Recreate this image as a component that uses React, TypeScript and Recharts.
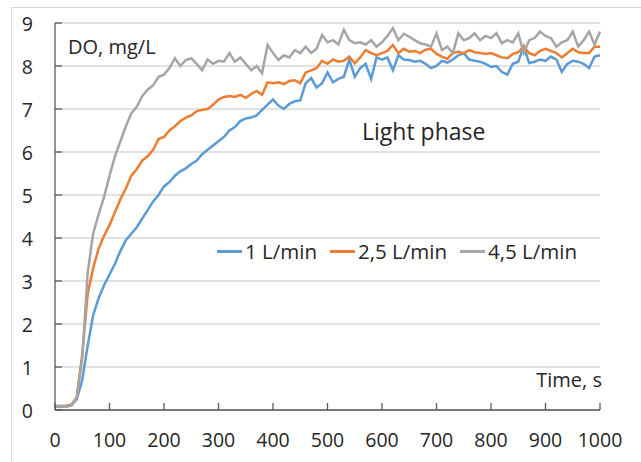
import React from 'react';
import { LineChart, Line, XAxis, YAxis, CartesianGrid, Legend, Customized } from 'recharts';

const TIME = [
  0, 10, 20, 30, 40, 50, 60, 70, 80, 90,
  100, 110, 120, 130, 140, 150, 160, 170, 180, 190,
  200, 210, 220, 230, 240, 250, 260, 270, 280, 290,
  300, 310, 320, 330, 340, 350, 360, 370, 380, 390,
  400, 410, 420, 430, 440, 450, 460, 470, 480, 490,
  500, 510, 520, 530, 540, 550, 560, 570, 580, 590,
  600, 610, 620, 630, 640, 650, 660, 670, 680, 690,
  700, 710, 720, 730, 740, 750, 760, 770, 780, 790,
  800, 810, 820, 830, 840, 850, 860, 870, 880, 890,
  900, 910, 920, 930, 940, 950, 960, 970, 980, 990,
  1000,
];

const FLOW_1 = [
  0.08, 0.09, 0.08, 0.1, 0.25, 0.7, 1.5, 2.2, 2.6, 2.9,
  3.15, 3.4, 3.7, 3.95, 4.1, 4.25, 4.45, 4.65, 4.85, 5.0,
  5.2, 5.3, 5.45, 5.55, 5.62, 5.72, 5.8, 5.95, 6.05, 6.15,
  6.25, 6.35, 6.5, 6.58, 6.72, 6.78, 6.8, 6.85, 6.98, 7.1,
  7.22, 7.08, 7.0, 7.12, 7.18, 7.2, 7.6, 7.72, 7.5, 7.6,
  7.85, 7.62, 7.7, 7.75, 8.15, 7.75, 7.95, 8.05, 7.7, 8.2,
  8.15, 8.2, 7.9, 8.25, 8.15, 8.14, 8.1, 8.12, 8.05, 7.95,
  8.0, 8.12, 8.08, 8.15, 8.25, 8.3, 8.15, 8.12, 8.1, 8.05,
  7.98, 8.0, 7.86, 7.8, 8.05, 8.1, 8.45, 8.07, 8.1, 8.15,
  8.12, 8.22, 8.15, 7.86, 8.05, 8.12, 8.1, 8.05, 7.95, 8.22,
  8.25,
];

const FLOW_2_5 = [
  0.1, 0.09, 0.1, 0.12, 0.3, 1.3, 2.7, 3.3, 3.75, 4.05,
  4.3, 4.6, 4.9, 5.15, 5.45, 5.6, 5.8, 5.9, 6.05, 6.3,
  6.35, 6.5, 6.6, 6.72, 6.8, 6.85, 6.95, 6.98, 7.0, 7.1,
  7.22, 7.28, 7.3, 7.28, 7.33, 7.26, 7.35, 7.42, 7.33, 7.62,
  7.6, 7.62, 7.58, 7.65, 7.67, 7.6, 7.85, 7.9, 7.95, 8.12,
  8.05, 8.15, 8.1, 8.12, 8.22, 8.06, 8.2, 8.37, 8.3, 8.25,
  8.3, 8.35, 8.49, 8.3, 8.4, 8.33, 8.35, 8.3, 8.38, 8.4,
  8.28, 8.22, 8.17, 8.3, 8.33, 8.3, 8.37, 8.32, 8.3, 8.28,
  8.3, 8.25, 8.2, 8.18, 8.28, 8.32, 8.45, 8.3, 8.25, 8.35,
  8.4, 8.35, 8.3, 8.2, 8.3, 8.4, 8.32, 8.3, 8.3, 8.45,
  8.45,
];

const FLOW_4_5 = [
  0.08, 0.1, 0.08, 0.1, 0.3, 1.2, 3.2, 4.1, 4.55, 4.95,
  5.45, 5.9, 6.25, 6.6, 6.9, 7.05, 7.3, 7.45, 7.55, 7.75,
  7.8, 7.95, 8.18, 8.0, 8.14, 8.18, 8.05, 7.9, 8.15, 8.05,
  8.12, 8.1, 8.3, 8.1, 8.2, 8.05, 7.9, 8.0, 7.83, 8.49,
  8.3, 8.14, 8.25, 8.2, 8.37, 8.3, 8.45, 8.3, 8.4, 8.72,
  8.55, 8.6, 8.5, 8.84, 8.6, 8.53, 8.55, 8.5, 8.6, 8.45,
  8.55, 8.7, 8.88, 8.6, 8.75, 8.68, 8.6, 8.53, 8.5, 8.45,
  8.76, 8.37, 8.45, 8.3, 8.76, 8.6, 8.65, 8.76, 8.6, 8.7,
  8.65, 8.76, 8.53, 8.6, 8.55, 8.76, 8.3, 8.6, 8.65, 8.8,
  8.7, 8.65, 8.45, 8.55, 8.6, 8.8, 8.45, 8.6, 8.8, 8.5,
  8.8,
];

const X_TICKS = [0, 100, 200, 300, 400, 500, 600, 700, 800, 900, 1000];
const Y_TICKS = [0, 1, 2, 3, 4, 5, 6, 7, 8, 9];
const SERIES_NAMES = ['1 L/min', '2,5 L/min', '4,5 L/min'];
const SERIES_KEYS = ['f1', 'f25', 'f45'];
const COLORS = ['#5B9BD5', '#ED7D31', '#A5A5A5'];

const data = TIME.map((t, i) => ({ t, f1: FLOW_1[i], f25: FLOW_2_5[i], f45: FLOW_4_5[i] }));

const FONT = '"Open Sans", "Noto Sans", sans-serif';
const TEXT_COLOR = '#262626';
const AXIS_COLOR = '#595959';

const XTick = (props: any) => {
  const { x, y, payload } = props;
  return (
    <g>
      <line x1={x} x2={x} y1={y} y2={y - 7} stroke={AXIS_COLOR} strokeWidth={1.3} />
      <text x={x} y={y + 36.5} textAnchor="middle" fontFamily={FONT} fontSize={19.5} fill={TEXT_COLOR}>
        {payload.value}
      </text>
    </g>
  );
};

const YTick = (props: any) => {
  const { x, y, payload } = props;
  return (
    <g>
      <line x1={x} x2={x + 7} y1={y} y2={y} stroke={AXIS_COLOR} strokeWidth={1.3} />
      <text x={x - 22} y={y + 7.5} textAnchor="end" fontFamily={FONT} fontSize={19.5} fill={TEXT_COLOR}>
        {payload.value}
      </text>
    </g>
  );
};

const Annotations = () => (
  <g>
    <text x={68} y={54} fontFamily={FONT} fontSize={20} fill={TEXT_COLOR}>DO, mg/L</text>
    <text x={362} y={140} fontFamily={FONT} fontSize={23} fill={TEXT_COLOR}>Light phase</text>
    <text x={602} y={387} textAnchor="end" fontFamily={FONT} fontSize={20} fill={TEXT_COLOR}>Time, s</text>
  </g>
);

const LegendContent = () => (
  <div style={{ display: 'flex', alignItems: 'center', fontFamily: FONT, fontSize: 20.5, lineHeight: '20px', color: TEXT_COLOR, whiteSpace: 'nowrap' }}>
    {SERIES_NAMES.map((name, i) => (
      <div key={name} style={{ display: 'flex', alignItems: 'center', marginRight: 13 }}>
        <span style={{ display: 'inline-block', width: 25, height: 3, background: COLORS[i], marginRight: 3 }} />
        <span>{name}</span>
      </div>
    ))}
  </div>
);

export default function App() {
  return (
    <div style={{ position: 'absolute', left: 0, top: 0, width: 641, height: 462, background: '#ffffff', overflow: 'hidden' }}>
      <div style={{ position: 'absolute', left: 11, top: 7, width: 700, height: 500, borderLeft: '1px solid #d9d9d9', borderTop: '1px solid #d9d9d9' }} />
      <div style={{ position: 'absolute', left: 0, top: 0 }}>
        <LineChart width={641} height={462} data={data} margin={{ top: 23, right: 41, left: 0, bottom: 0 }}>
          <CartesianGrid vertical={false} stroke="#d9d9d9" strokeWidth={1.3} />
          <XAxis
            dataKey="t"
            type="number"
            domain={[0, 1000]}
            ticks={X_TICKS}
            interval={0}
            height={52}
            tickSize={0}
            tickMargin={0}
            tickLine={false}
            axisLine={{ stroke: AXIS_COLOR, strokeWidth: 1.3 }}
            tick={<XTick />}
          />
          <YAxis
            type="number"
            domain={[0, 9]}
            ticks={Y_TICKS}
            interval={0}
            width={55}
            tickSize={0}
            tickMargin={0}
            tickLine={false}
            axisLine={{ stroke: AXIS_COLOR, strokeWidth: 1.3 }}
            tick={<YTick />}
          />
          {SERIES_KEYS.map((k, i) => (
            <Line
              key={k}
              dataKey={k}
              name={SERIES_NAMES[i]}
              type="linear"
              stroke={COLORS[i]}
              strokeWidth={2.5}
              dot={false}
              isAnimationActive={false}
            />
          ))}
          <Legend
            verticalAlign="middle"
            align="center"
            layout="horizontal"
            wrapperStyle={{ position: 'absolute', left: 217, top: 241, width: 'auto', height: 'auto' }}
            content={<LegendContent />}
          />
          <Customized component={Annotations} />
        </LineChart>
      </div>
    </div>
  );
}
